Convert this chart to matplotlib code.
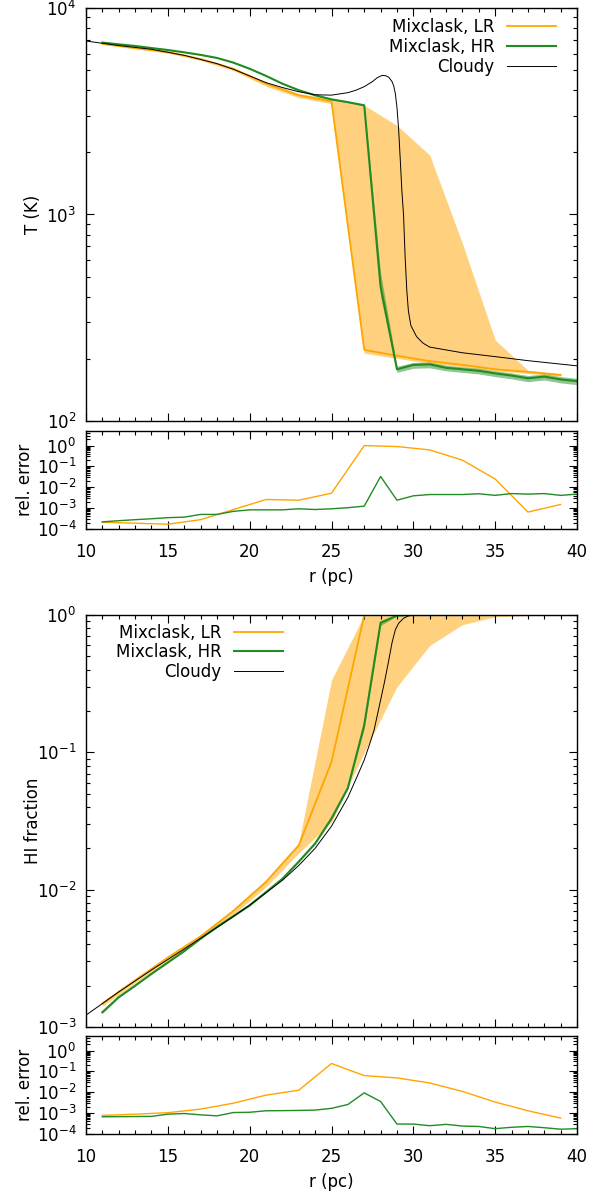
import numpy as np
import matplotlib
matplotlib.use("Agg")
import matplotlib.pyplot as plt
from matplotlib.ticker import LogLocator, MultipleLocator, NullFormatter

# ---- data ----
# temperature panel
r_cloudy_T = [10, 12, 14, 16, 18, 19, 20, 21, 22, 23, 24, 25, 26, 26.5, 27, 27.5, 27.8, 28.1,
              28.3, 28.5, 28.7, 28.8, 28.9, 29.0, 29.1, 29.2, 29.3, 29.4, 29.5, 29.6, 29.7,
              29.85, 30.2, 30.6, 31, 33, 35, 37, 40]
T_cloudy = [6920, 6580, 6310, 5900, 5380, 5050, 4690, 4350, 4120, 3930, 3800, 3785, 3890,
            4000, 4160, 4400, 4600, 4720, 4700, 4620, 4400, 4200, 3850, 3300, 2600, 1850,
            1300, 1000, 620, 430, 340, 290, 256, 238, 228, 214, 205, 196, 185]

r_lr = [11, 13, 15, 17, 19, 21, 23, 25, 27, 29, 31, 33, 35, 37, 39]
T_lr = [6710, 6400, 6120, 5660, 5080, 4300, 3780, 3530, 221, 207, 195, 187, 178, 173, 167]
T_lr_lo = [6650, 6330, 6040, 5570, 4980, 4180, 3680, 3440, 213, 201, 190, 183, 175, 170, 165]
T_lr_hi = [6760, 6450, 6170, 5720, 5150, 4380, 3850, 3640, 3380, 2700, 1940, 725, 247, 176, 170]

r_hr = list(range(11, 41))
T_hr = [6800, 6670, 6550, 6400, 6260, 6100, 5930, 5730, 5440, 5080, 4690, 4300, 4000, 3780,
        3610, 3500, 3380, 447, 178, 187, 188, 181, 178, 175, 170, 166, 161, 164, 159, 156]
T_hr_lo = [6780, 6650, 6530, 6380, 6240, 6080, 5910, 5710, 5420, 5060, 4670, 4280, 3980, 3760,
           3590, 3480, 3350, 400, 172, 180, 181, 175, 172, 169, 164, 160, 155, 158, 153, 150]
T_hr_hi = [6820, 6690, 6570, 6420, 6280, 6120, 5950, 5750, 5460, 5100, 4710, 4320, 4020, 3800,
           3630, 3520, 3410, 520, 184, 192, 193, 186, 183, 180, 175, 171, 166, 169, 164, 161]

# relative error, temperature
err_T_lr = [2.1e-4, 1.9e-4, 1.7e-4, 2.8e-4, 8.5e-4, 2.6e-3, 2.4e-3, 5.2e-3, 1.0, 0.9, 0.62,
            0.2, 0.025, 6.5e-4, 1.5e-3]
err_T_hr = [2.2e-4, 2.5e-4, 2.8e-4, 3.1e-4, 3.5e-4, 3.7e-4, 5e-4, 5e-4, 7e-4, 8.3e-4, 8.3e-4,
            8.3e-4, 9.3e-4, 8.6e-4, 9.3e-4, 1.05e-3, 1.25e-3, 0.033, 2.4e-3, 3.9e-3, 4.5e-3,
            4.5e-3, 4.5e-3, 4.9e-3, 4.1e-3, 5e-3, 4.7e-3, 5e-3, 4.1e-3, 4.7e-3]

# HI fraction panel
r_cloudy_X = [10, 12, 14, 16, 18, 20, 22, 23, 24, 25, 26, 26.5, 27, 27.3, 27.6, 28, 28.25,
              28.5, 28.7, 28.9, 29.1, 29.4, 29.7, 30, 31, 35, 40]
X_cloudy = [1.22e-3, 1.8e-3, 2.6e-3, 3.7e-3, 5.3e-3, 7.7e-3, 0.0117, 0.0150, 0.020, 0.029,
            0.047, 0.064, 0.088, 0.112, 0.145, 0.24, 0.33, 0.47, 0.63, 0.78, 0.87, 0.946,
            0.985, 0.998, 1.0, 1.0, 1.0]

X_lr = [1.48e-3, 2.19e-3, 3.2e-3, 4.57e-3, 7.0e-3, 0.0114, 0.021, 0.085, 1.0, 1.0, 1.0, 1.0,
        1.0, 1.0, 1.0]
X_lr_lo = [1.42e-3, 2.1e-3, 3.05e-3, 4.4e-3, 6.6e-3, 0.0105, 0.0185, 0.031, 0.10, 0.30, 0.60,
           0.85, 0.97, 0.99, 1.0]
X_lr_hi = [1.53e-3, 2.25e-3, 3.3e-3, 4.7e-3, 7.2e-3, 0.0118, 0.022, 0.336, 1.0, 1.0, 1.0, 1.0,
           1.0, 1.0, 1.0]

X_hr = [1.28e-3, 1.65e-3, 2.0e-3, 2.44e-3, 2.95e-3, 3.57e-3, 4.4e-3, 5.35e-3, 6.4e-3, 7.7e-3,
        9.6e-3, 0.012, 0.016, 0.0217, 0.033, 0.055, 0.158, 0.88, 0.99, 1.0, 1.0, 1.0, 1.0,
        1.0, 1.0, 1.0, 1.0, 1.0, 1.0, 1.0]
X_hr_lo = [1.26e-3, 1.63e-3, 1.98e-3, 2.42e-3, 2.92e-3, 3.54e-3, 4.36e-3, 5.3e-3, 6.35e-3,
           7.6e-3, 9.5e-3, 0.0119, 0.0158, 0.0214, 0.0325, 0.054, 0.15, 0.84, 0.985, 1.0, 1.0,
           1.0, 1.0, 1.0, 1.0, 1.0, 1.0, 1.0, 1.0, 1.0]
X_hr_hi = [1.30e-3, 1.67e-3, 2.02e-3, 2.46e-3, 2.98e-3, 3.6e-3, 4.44e-3, 5.4e-3, 6.45e-3,
           7.8e-3, 9.7e-3, 0.0121, 0.0162, 0.022, 0.0335, 0.056, 0.165, 0.9, 0.995, 1.0, 1.0,
           1.0, 1.0, 1.0, 1.0, 1.0, 1.0, 1.0, 1.0, 1.0]

# relative error, HI fraction
err_X_lr = [7.8e-4, 8.9e-4, 1.05e-3, 1.56e-3, 3.0e-3, 7.3e-3, 0.0126, 0.24, 0.063, 0.049,
            0.028, 0.011, 3.4e-3, 1.3e-3, 5.8e-4]
err_X_hr = [6.7e-4, 6.8e-4, 6.9e-4, 7e-4, 8.9e-4, 9.6e-4, 8.3e-4, 7.4e-4, 1.07e-3, 1.1e-3,
            1.3e-3, 1.32e-3, 1.35e-3, 1.4e-3, 1.7e-3, 2.6e-3, 9.4e-3, 3.6e-3, 3.0e-4, 3.0e-4,
            2.5e-4, 2.9e-4, 2.4e-4, 2.3e-4, 1.8e-4, 2.1e-4, 2.3e-4, 2.0e-4, 1.7e-4, 1.8e-4]

labels = ["Mixclask, LR", "Mixclask, HR", "Cloudy"]
c_lr = "#FFA500"
c_hr = "#228B22"

plt.rcParams['font.family'] = ['DejaVu Sans']
plt.rcParams['font.size'] = 10

W, H = 601, 1195
fig = plt.figure(figsize=(W / 100, H / 100), dpi=100)


def box(x0, y0, x1, y1):
    # pixel box -> figure fraction
    return [x0 / W, 1 - y1 / H, (x1 - x0) / W, (y1 - y0) / H]


def style(ax, labels_x):
    ax.set_xlim(10, 40)
    ax.xaxis.set_major_locator(MultipleLocator(5))
    ax.xaxis.set_minor_locator(MultipleLocator(1))
    ax.tick_params(which='both', direction='in', top=True, right=True, width=0.8)
    ax.tick_params(which='major', length=6, labelsize=12, pad=7)
    ax.tick_params(which='minor', length=3)
    ax.tick_params(axis='x', which='major', pad=10)
    if not labels_x:
        ax.tick_params(axis='x', labelbottom=False)
    for s in ax.spines.values():
        s.set_linewidth(1.0)


def main_panel(ax, r_c, y_c, y_lr, lo_lr, hi_lr, y_hr, lo_hr, hi_hr):
    ax.fill_between(r_lr, lo_lr, hi_lr, color=c_lr, alpha=0.5, lw=0)
    ax.fill_between(r_hr, lo_hr, hi_hr, color=c_hr, alpha=0.5, lw=0)
    ax.plot(r_lr, y_lr, color=c_lr, lw=1.3, label=labels[0])
    ax.plot(r_hr, y_hr, color=c_hr, lw=1.5, label=labels[1])
    ax.plot(r_c, y_c, color='black', lw=0.7, label=labels[2])
    ax.set_yscale('log')
    style(ax, False)


def add_legend(ax, x, y):
    ax.legend(loc='upper right', bbox_to_anchor=(x, y), frameon=False, markerfirst=False,
              handlelength=2.95, handletextpad=0.72, labelspacing=0.1, borderpad=0,
              borderaxespad=0, fontsize=12)


def err_panel(ax, e_lr, e_hr):
    ax.plot(r_lr, e_lr, color=c_lr, lw=1.0)
    ax.plot(r_hr, e_hr, color=c_hr, lw=1.0)
    ax.set_yscale('log')
    ax.set_ylim(1e-4, 5)
    ax.yaxis.set_major_locator(LogLocator(base=10, numticks=10))
    ax.yaxis.set_minor_locator(LogLocator(base=10, subs=np.arange(2, 10), numticks=20))
    ax.yaxis.set_minor_formatter(NullFormatter())
    style(ax, True)
    ax.set_ylabel("rel. error", fontsize=12)
    ax.yaxis.set_label_coords(-0.105, 0.5)
    ax.set_xlabel("r (pc)", fontsize=12)
    ax.xaxis.set_label_coords(0.5, -0.40)


# --- temperature ---
ax1 = fig.add_axes(box(86, 8, 577, 421))
main_panel(ax1, r_cloudy_T, T_cloudy, T_lr, T_lr_lo, T_lr_hi, T_hr, T_hr_lo, T_hr_hi)
ax1.set_ylim(100, 1e4)
ax1.set_ylabel("T (K)", fontsize=12)
ax1.yaxis.set_label_coords(-0.09, 0.5)
add_legend(ax1, 0.957, 0.975)

ax2 = fig.add_axes(box(86, 431, 577, 529))
err_panel(ax2, err_T_lr, err_T_hr)

# --- HI fraction ---
ax3 = fig.add_axes(box(86, 615, 577, 1027))
main_panel(ax3, r_cloudy_X, X_cloudy, X_lr, X_lr_lo, X_lr_hi, X_hr, X_hr_lo, X_hr_hi)
ax3.set_ylim(1e-3, 1)
ax3.set_ylabel("HI fraction", fontsize=12)
ax3.yaxis.set_label_coords(-0.09, 0.5)
add_legend(ax3, 0.401, 0.979)

ax4 = fig.add_axes(box(86, 1036, 577, 1134))
err_panel(ax4, err_X_lr, err_X_hr)

fig.savefig("out.png", dpi=100)
